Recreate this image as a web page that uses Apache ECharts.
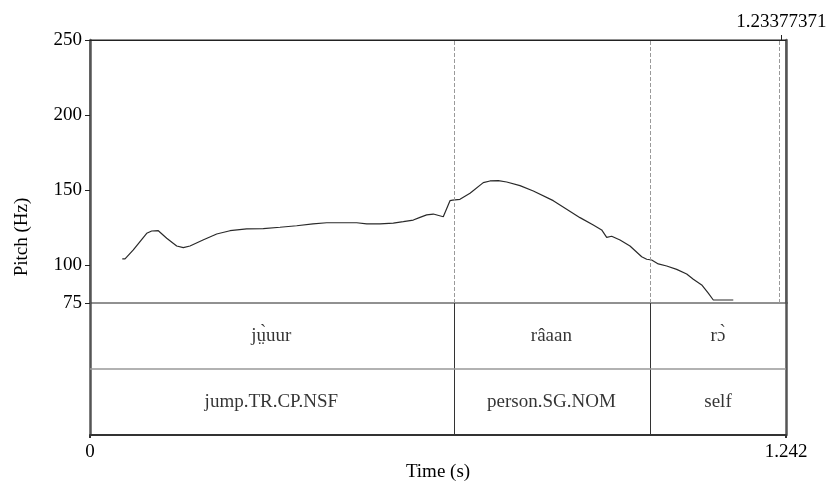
<!DOCTYPE html>
<html>
<head>
<meta charset="utf-8">
<style>html,body{margin:0;padding:0;background:#fff;}#c{width:831px;height:485px;}</style>
<script src="https://cdn.jsdelivr.net/npm/echarts@6/dist/echarts.min.js"></script>
</head>
<body>
<div id="c"></div>
<script>
const pitchTimes = [0.0576,0.0625,0.0773,0.1012,0.1101,0.1219,0.1369,0.1547,0.1665,0.1784,0.2016,0.2261,0.2498,0.2796,0.3092,0.3390,0.3688,0.3979,0.4224,0.4581,0.4759,0.4938,0.5175,0.5412,0.5591,0.5769,0.5889,0.6008,0.6126,0.6304,0.6335,0.6424,0.6472,0.6602,0.6781,0.7018,0.7138,0.7286,0.7436,0.7673,0.7911,0.8267,0.8506,0.8744,0.8981,0.9131,0.9220,0.9309,0.9458,0.9636,0.9845,0.9934,1.0023,1.0141,1.0291,1.0469,1.0648,1.0766,1.0916,1.1033,1.1123,1.1153,1.1242,1.1479];
const pitchHz = [104.3,104.3,110.3,121.4,122.9,123.1,118.1,112.9,111.8,112.9,116.9,120.9,123.1,124.3,124.5,125.4,126.4,127.6,128.4,128.4,128.4,127.6,127.6,128.2,129.1,130.2,132.0,133.6,134.2,132.4,132.0,143.1,143.5,144.0,148.0,155.1,156.2,156.4,155.5,153.1,149.5,143.1,137.4,131.8,126.9,123.6,118.7,119.4,116.9,112.9,105.8,104.1,103.6,101.0,99.6,97.4,94.3,90.8,87.0,81.5,77.0,76.3,77.0,77.0];
const timeMax = 1.242;
const selectionEnd = 1.23377371;
const boundaries = [0.6474, 0.9993];
const tier1Labels = ['j\u1E73\u0300uur', 'râaan', 'r\u0254\u0300'];
const tier2Labels = ['jump.TR.CP.NSF', 'person.SG.NOM', 'self'];
const pitchTicks = [75, 100, 150, 200, 250];
const pitchMin = 75, pitchMax = 250;

const FONT = 'Liberation Serif';
const TXT = '#000';
const edges = [0].concat(boundaries, [timeMax]);
function tierData(labels, row) {
  return labels.map((t, i) => [(edges[i] + edges[i + 1]) / 2, row, t]);
}

const chart = echarts.init(document.getElementById('c'), null, {renderer: 'canvas'});
chart.setOption({
  animation: false,
  backgroundColor: '#fff',
  textStyle: {fontFamily: FONT},
  grid: [
    {left: 90, top: 40, width: 696, height: 263, show: true, borderColor: '#222', borderWidth: 1, backgroundColor: 'transparent'},
    {left: 90, top: 303, width: 696, height: 132, show: false}
  ],
  graphic: [{
    type: 'text', x: 22, y: 237, rotation: Math.PI / 2,
    style: {text: 'Pitch (Hz)', font: '19px "' + FONT + '"', fill: TXT, textAlign: 'center', textVerticalAlign: 'middle'}
  }],
  xAxis: [
    {gridIndex: 0, type: 'value', position: 'top', min: 0, max: timeMax,
     axisLine: {show: true, lineStyle: {color: '#222', width: 1}},
     axisTick: {show: true, customValues: [selectionEnd], length: 5, lineStyle: {color: '#222'}},
     axisLabel: {show: true, customValues: [selectionEnd], formatter: v => String(v), margin: 8, fontSize: 19, color: TXT, fontFamily: FONT},
     splitLine: {show: false}},
    {gridIndex: 1, type: 'value', position: 'bottom', min: 0, max: timeMax,
     name: 'Time (s)', nameLocation: 'middle', nameGap: 26, nameTextStyle: {fontSize: 19, color: TXT, fontFamily: FONT},
     axisLine: {show: true, lineStyle: {color: '#333', width: 2}},
     axisTick: {show: true, customValues: [0, timeMax], length: 3, lineStyle: {color: '#333', width: 2}},
     axisLabel: {show: true, customValues: [0, timeMax], formatter: v => String(v), margin: 8, fontSize: 19, color: TXT, fontFamily: FONT},
     splitLine: {show: false}}
  ],
  yAxis: [
    {gridIndex: 0, type: 'value', min: pitchMin, max: pitchMax, position: 'left',
     axisLine: {show: true, lineStyle: {color: '#555', width: 2.5}},
     axisTick: {show: true, customValues: pitchTicks, length: 5, lineStyle: {color: '#222'}},
     axisLabel: {show: true, customValues: pitchTicks, margin: 8, fontSize: 19, color: TXT, fontFamily: FONT},
     splitLine: {show: false}},
    {gridIndex: 0, type: 'value', min: pitchMin, max: pitchMax, position: 'right',
     axisLine: {show: true, lineStyle: {color: '#555', width: 2.5}},
     axisTick: {show: false}, axisLabel: {show: false}, splitLine: {show: false}},
    {gridIndex: 1, type: 'value', min: 0, max: 2, interval: 1, position: 'left',
     axisLine: {show: true, lineStyle: {color: '#555', width: 2.5}},
     axisTick: {show: false}, axisLabel: {show: false}, splitLine: {show: false}},
    {gridIndex: 1, type: 'value', min: 0, max: 2, interval: 1, position: 'right',
     axisLine: {show: true, lineStyle: {color: '#555', width: 2.5}},
     axisTick: {show: false}, axisLabel: {show: false}, splitLine: {show: false}}
  ],
  series: [
    {type: 'line', xAxisIndex: 0, yAxisIndex: 0,
     data: pitchTimes.map((t, i) => [t, pitchHz[i]]),
     showSymbol: false, symbol: 'none', smooth: false,
     lineStyle: {color: '#2a2a2a', width: 1.2},
     markLine: {silent: true, symbol: 'none', label: {show: false},
       lineStyle: {color: '#9a9a9a', type: [4, 2], width: 1},
       data: boundaries.concat([selectionEnd]).map(v => ({xAxis: v}))}},
    {type: 'scatter', xAxisIndex: 1, yAxisIndex: 2, symbolSize: 0.1,
     itemStyle: {color: 'rgba(0,0,0,0)'},
     data: tierData(tier1Labels, 1.5).concat(tierData(tier2Labels, 0.5)),
     label: {show: true, position: 'inside', formatter: p => p.value[2], fontSize: 19, color: TXT, fontFamily: FONT},
     markLine: {silent: true, symbol: 'none', label: {show: false},
       data: boundaries.map(v => ({xAxis: v, lineStyle: {color: '#333', type: 'solid', width: 1}}))
         .concat([{yAxis: 1, lineStyle: {color: '#999', type: 'solid', width: 1.6}}])}}
  ]
});
</script>
</body>
</html>
